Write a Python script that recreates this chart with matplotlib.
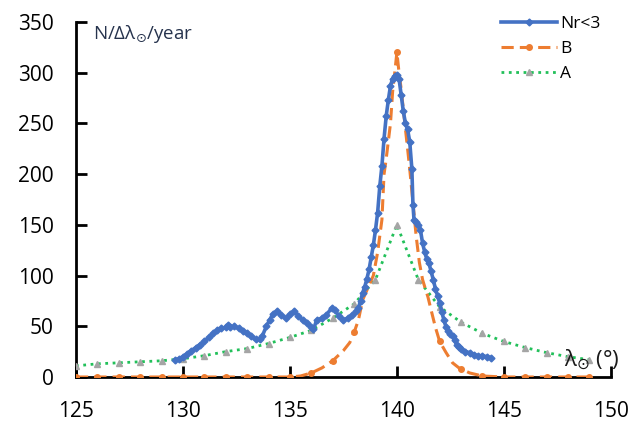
import matplotlib
matplotlib.use("Agg")
import matplotlib.pyplot as plt

plt.rcParams['font.family'] = ['Open Sans', 'DejaVu Sans']

# Nr<3 (blue, dense)
nr_x = [129.65, 129.8, 130.0, 130.2, 130.4, 130.6, 130.8, 131.0, 131.2, 131.4,
        131.6, 131.8, 132.0, 132.1, 132.2, 132.4, 132.6, 132.8, 133.0, 133.2,
        133.4, 133.6, 133.7, 133.9, 134.05, 134.2, 134.4, 134.6, 134.8, 135.0,
        135.2, 135.4, 135.6, 135.8, 136.0, 136.1, 136.25, 136.5, 136.7, 136.95,
        137.1, 137.3, 137.5, 137.7, 137.9, 138.1, 138.2, 138.3, 138.4, 138.5,
        138.6, 138.7, 138.8, 138.9, 139.0, 139.1, 139.2, 139.3, 139.4, 139.5,
        139.6, 139.7, 139.8, 139.9, 140.0, 140.1, 140.2, 140.3, 140.4, 140.5,
        140.6, 140.7, 140.75, 140.8, 140.9, 141.0, 141.1, 141.2, 141.3, 141.4,
        141.5, 141.6, 141.7, 141.8, 141.9, 142.0, 142.1, 142.2, 142.3, 142.4,
        142.5, 142.6, 142.7, 142.8, 142.9, 143.0, 143.2, 143.4, 143.6, 143.8,
        144.0, 144.2, 144.4]
nr_y = [17, 18, 20, 23, 26, 29, 32, 35, 39, 43,
        46, 48, 49, 51, 49, 50, 48, 45, 43, 40,
        37, 37, 40, 50, 56, 62, 65, 61, 58, 62,
        65, 60, 56, 53, 49, 47, 56, 58, 61, 68,
        66, 60, 56, 58, 61, 65, 68, 75, 83, 89,
        97, 106, 118, 130, 145, 162, 188, 208, 235, 257,
        273, 287, 294, 297, 298, 294, 278, 262, 250, 244,
        232, 205, 170, 155, 153, 150, 145, 132, 123, 116,
        112, 104, 96, 87, 80, 73, 64, 56, 49, 45,
        42, 40, 36, 32, 30, 28, 25, 24, 22, 21,
        21, 20, 19]

# B (orange dashed)
b_x = [125, 126, 127, 128, 129, 130, 131, 132, 133, 134, 135, 135.5, 136, 136.5,
       137, 137.5, 137.8, 138, 138.2, 138.4, 138.65, 138.9, 139.1, 139.3, 139.4,
       139.5, 139.7, 139.8, 139.9, 140, 140.1, 140.2, 140.35, 140.5, 140.6,
       140.75, 140.9, 141.05, 141.2, 141.3, 141.45, 141.6, 141.8, 142, 142.3,
       142.6, 142.9, 143, 143.4, 144, 145, 146, 147, 148, 149]
b_y = [0, 0, 0, 0, 0, 0, 0, 0, 0, 0, 0, 1, 4, 9,
       16, 26, 34, 44, 56, 76, 88, 100, 123, 155, 200,
       215, 250, 281, 300, 320, 300, 284, 254, 225, 205,
       172, 139, 113, 96, 89, 79, 66, 49, 35, 24,
       14, 9, 8, 4, 1, 0, 0, 0, 0, 0]

# A (green dotted, grey triangles)
a_x = list(range(125, 150))
a_y = [11, 13, 14, 15, 16, 18, 21, 25, 28, 33, 39, 46, 58, 72, 96,
       150, 96, 69, 54, 43, 35, 29, 24, 20, 17]

blue = '#4472C4'
orange = '#ED7D31'
green = '#22C05A'
grey = '#A5A5A5'

fig = plt.figure(figsize=(6.33, 4.21), dpi=100)
ax = fig.add_axes([0.120, 0.1045, 0.845, 0.8435])

ax.plot(a_x, a_y, linestyle=':', color=green, linewidth=2, zorder=2)
ax.plot(a_x, a_y, linestyle='none', marker='^', color=grey, markersize=5, zorder=3)

b_int = [i for i, x in enumerate(b_x) if float(x).is_integer()]
ax.plot(b_x, b_y, linestyle='--', color=orange, linewidth=2.2, dashes=(4, 2), zorder=4)
ax.plot([b_x[i] for i in b_int], [b_y[i] for i in b_int], linestyle='none',
        marker='o', color=orange, markersize=4, zorder=4)

ax.plot(nr_x, nr_y, color=blue, linewidth=2.6, marker='D', markersize=3.5, zorder=5)

# legend handles
ax.plot([], [], color=blue, linewidth=2.6, marker='D', markersize=3.5, label='Nr<3')
ax.plot([], [], color=orange, linestyle='--', dashes=(4, 2), linewidth=2.2,
        marker='o', markersize=4, label='B')
ax.plot([], [], color=green, linestyle=':', linewidth=2, marker='^',
        markerfacecolor=grey, markeredgecolor=grey, markersize=5, label='A')
h, l = ax.get_legend_handles_labels()
ax.legend(h[-3:], l[-3:], loc='upper right', bbox_to_anchor=(1.0, 1.045),
          frameon=False, fontsize=12.5, handlelength=3.2, handletextpad=0.2,
          labelspacing=0.5, borderaxespad=0.2)

ax.set_xlim(125, 150)
ax.set_ylim(0, 350)
ax.set_xticks(range(125, 151, 5))
ax.set_yticks(range(0, 351, 50))
for s in ['top', 'right']:
    ax.spines[s].set_visible(False)
for s in ['left', 'bottom']:
    ax.spines[s].set_linewidth(2)
    ax.spines[s].set_color('black')
ax.tick_params(direction='in', length=8, width=2, labelsize=15, pad=16)
ax.tick_params(axis='x', pad=17)

ax.text(125.8, 338, r'N/Δλ$_{\odot}$/year', fontsize=13.5, color='#26334d', va='center')
ax.text(150.4, 17, r'λ$_{\odot}$ (°)', fontsize=16, color='#1a1a1a', ha='right', va='center')

fig.savefig('out.png', dpi=100)
